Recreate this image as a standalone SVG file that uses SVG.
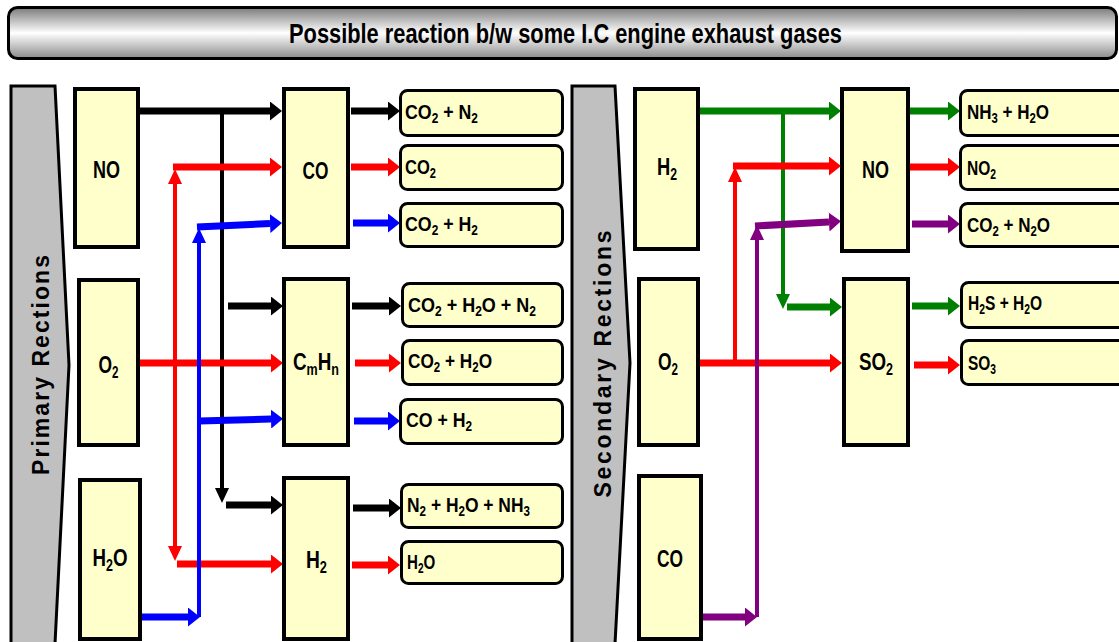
<svg xmlns="http://www.w3.org/2000/svg" width="1119" height="642" viewBox="0 0 1119 642">
<style>
text{font-family:"Liberation Sans",Arial,sans-serif;font-weight:bold;fill:#000}
.box{fill:#FFFFCC;stroke:#000;stroke-width:4}
.out{fill:#FFFFCC;stroke:#000;stroke-width:3}
.chev{fill:#C0C0C0;stroke:#000;stroke-width:3}
.nl{font-size:24px;text-anchor:middle}
.ol{font-size:21px}
.sn{font-size:16px}
.so{font-size:14px}
.side{font-size:23px;text-anchor:middle}
.c{fill:none;stroke-linecap:butt}
.h{stroke-width:7}
.v{stroke-width:4}
.k{stroke:#000}.r{stroke:#FF0000}.b{stroke:#0000FF}.g{stroke:#008000}.p{stroke:#800080}
</style>
<defs>
<linearGradient id="tg" x1="0" y1="0" x2="0" y2="1">
<stop offset="0" stop-color="#7a7a7a"/>
<stop offset="0.5" stop-color="#ffffff"/>
<stop offset="1" stop-color="#8a8a8a"/>
</linearGradient>
<marker id="hk" markerUnits="userSpaceOnUse" viewBox="0 0 12 19" markerWidth="12" markerHeight="19" refX="0" refY="9.5" orient="auto"><path d="M0,0 L12,9.5 L0,19 z" fill="#000"/></marker>
<marker id="hr" markerUnits="userSpaceOnUse" viewBox="0 0 12 19" markerWidth="12" markerHeight="19" refX="0" refY="9.5" orient="auto"><path d="M0,0 L12,9.5 L0,19 z" fill="#FF0000"/></marker>
<marker id="hb" markerUnits="userSpaceOnUse" viewBox="0 0 12 19" markerWidth="12" markerHeight="19" refX="0" refY="9.5" orient="auto"><path d="M0,0 L12,9.5 L0,19 z" fill="#0000FF"/></marker>
<marker id="hg" markerUnits="userSpaceOnUse" viewBox="0 0 12 19" markerWidth="12" markerHeight="19" refX="0" refY="9.5" orient="auto"><path d="M0,0 L12,9.5 L0,19 z" fill="#008000"/></marker>
<marker id="hp" markerUnits="userSpaceOnUse" viewBox="0 0 12 19" markerWidth="12" markerHeight="19" refX="0" refY="9.5" orient="auto"><path d="M0,0 L12,9.5 L0,19 z" fill="#800080"/></marker>
<marker id="vk" markerUnits="userSpaceOnUse" viewBox="0 0 15 14" markerWidth="15" markerHeight="14" refX="0" refY="7" orient="auto"><path d="M0,0 L15,7 L0,14 z" fill="#000"/></marker>
<marker id="vr" markerUnits="userSpaceOnUse" viewBox="0 0 15 14" markerWidth="15" markerHeight="14" refX="0" refY="7" orient="auto"><path d="M0,0 L15,7 L0,14 z" fill="#FF0000"/></marker>
<marker id="vb" markerUnits="userSpaceOnUse" viewBox="0 0 15 14" markerWidth="15" markerHeight="14" refX="0" refY="7" orient="auto"><path d="M0,0 L15,7 L0,14 z" fill="#0000FF"/></marker>
<marker id="vg" markerUnits="userSpaceOnUse" viewBox="0 0 15 14" markerWidth="15" markerHeight="14" refX="0" refY="7" orient="auto"><path d="M0,0 L15,7 L0,14 z" fill="#008000"/></marker>
<marker id="vp" markerUnits="userSpaceOnUse" viewBox="0 0 15 14" markerWidth="15" markerHeight="14" refX="0" refY="7" orient="auto"><path d="M0,0 L15,7 L0,14 z" fill="#800080"/></marker>
</defs>
<rect width="1119" height="642" fill="#fff"/>

<g id="title">
<rect x="8.5" y="7.5" width="1108" height="51" rx="9" fill="url(#tg)" stroke="#000" stroke-width="3"/>
<text x="565.5" y="43" font-size="28" text-anchor="middle" textLength="553" lengthAdjust="spacingAndGlyphs">Possible reaction b/w some I.C engine exhaust gases</text>
</g>

<g id="primary-band">
<polygon class="chev" points="11,86 55,86 69,365 55,644 11,644"/>
<text class="side" transform="translate(49,365) rotate(-90)" textLength="220" lengthAdjust="spacing">Primary Rections</text>
</g>
<g id="secondary-band">
<polygon class="chev" points="572,86 615,86 630,363 615,644 572,644"/>
<text class="side" transform="translate(611,364) rotate(-90)" textLength="267" lengthAdjust="spacing">Secondary Rections</text>
</g>

<g id="connectors">
<!-- black -->
<path class="c h k" d="M140,111 H270" marker-end="url(#hk)"/>
<path class="c v k" d="M222,111 V488" marker-end="url(#vk)"/>
<path class="c h k" d="M228,306 H271" marker-end="url(#hk)"/>
<path class="c h k" d="M226,505 H271" marker-end="url(#hk)"/>
<path class="c h k" d="M351,111 H388" marker-end="url(#hk)"/>
<path class="c h k" d="M352,306 H389" marker-end="url(#hk)"/>
<path class="c h k" d="M353,508 H389" marker-end="url(#hk)"/>
<!-- red left -->
<path class="c h r" d="M140,363 H271" marker-end="url(#hr)"/>
<path class="c v r" d="M175,363 V184" marker-end="url(#vr)"/>
<path class="c v r" d="M175,363 V546" marker-end="url(#vr)"/>
<path class="c h r" d="M173,167 H270" marker-end="url(#hr)"/>
<path class="c h r" d="M177,564 H271" marker-end="url(#hr)"/>
<path class="c h r" d="M351,167 H388" marker-end="url(#hr)"/>
<path class="c h r" d="M355,363 H389" marker-end="url(#hr)"/>
<path class="c h r" d="M352,565 H388" marker-end="url(#hr)"/>
<!-- blue -->
<path class="c h b" d="M142,617 H188" marker-end="url(#hb)"/>
<path class="c v b" d="M199,617 V243" marker-end="url(#vb)"/>
<path class="c h b" d="M197,227 L270,223.5" marker-end="url(#hb)"/>
<path class="c h b" d="M199,421 L271,419" marker-end="url(#hb)"/>
<path class="c h b" d="M353,223 H388" marker-end="url(#hb)"/>
<path class="c h b" d="M354,421 H388" marker-end="url(#hb)"/>
<!-- green -->
<path class="c h g" d="M700,111 H829" marker-end="url(#hg)"/>
<path class="c v g" d="M783,111 V294" marker-end="url(#vg)"/>
<path class="c h g" d="M787,307 H830" marker-end="url(#hg)"/>
<path class="c h g" d="M910,111 H948" marker-end="url(#hg)"/>
<path class="c h g" d="M912,306 H948" marker-end="url(#hg)"/>
<!-- red right -->
<path class="c h r" d="M700,363 H830" marker-end="url(#hr)"/>
<path class="c v r" d="M735,363 V182" marker-end="url(#vr)"/>
<path class="c h r" d="M733,166 H829" marker-end="url(#hr)"/>
<path class="c h r" d="M910,167 H948" marker-end="url(#hr)"/>
<path class="c h r" d="M914,365 H948" marker-end="url(#hr)"/>
<!-- purple -->
<path class="c h p" d="M702,617 H745" marker-end="url(#hp)"/>
<path class="c v p" d="M757,617 V240" marker-end="url(#vp)"/>
<path class="c h p" d="M755,226 L829,222" marker-end="url(#hp)"/>
<path class="c h p" d="M912,224 H948" marker-end="url(#hp)"/>
</g>

<g id="n-NO">
<rect class="box" x="75" y="89" width="63" height="158"/>
<text class="nl" transform="translate(106.5,178) scale(0.75,1)">NO</text>
</g>
<g id="n-O2">
<rect class="box" x="79" y="280" width="59" height="165"/>
<text class="nl" transform="translate(108.5,373) scale(0.725,1)">O<tspan class="sn" dy="5">2</tspan></text>
</g>
<g id="n-H2O">
<rect class="box" x="80" y="480" width="60" height="159"/>
<text class="nl" transform="translate(110,566) scale(0.78,1)">H<tspan class="sn" dy="5">2</tspan><tspan dy="-5">O</tspan></text>
</g>
<g id="n-CO">
<rect class="box" x="284" y="89" width="64" height="158"/>
<text class="nl" transform="translate(315.5,179) scale(0.72,1)">CO</text>
</g>
<g id="n-CmHn">
<rect class="box" x="284" y="279" width="64" height="166"/>
<text class="nl" transform="translate(316,370) scale(0.785,1)">C<tspan class="sn" dy="5">m</tspan><tspan dy="-5">H</tspan><tspan class="sn" dy="5">n</tspan></text>
</g>
<g id="n-H2">
<rect class="box" x="284" y="478" width="64" height="161"/>
<text class="nl" transform="translate(316.5,568) scale(0.8,1)">H<tspan class="sn" dy="5">2</tspan></text>
</g>

<g id="o-1">
<rect class="out" x="400.5" y="90.5" width="162" height="45" rx="7"/>
<text class="ol" transform="translate(405,119) scale(0.847,1)">CO<tspan class="so" dy="4">2</tspan><tspan dy="-4"> + N</tspan><tspan class="so" dy="4">2</tspan></text>
</g>
<g id="o-2">
<rect class="out" x="400.5" y="145.5" width="162" height="44" rx="7"/>
<text class="ol" transform="translate(405,174) scale(0.789,1)">CO<tspan class="so" dy="4">2</tspan></text>
</g>
<g id="o-3">
<rect class="out" x="400.5" y="203.5" width="162" height="43" rx="7"/>
<text class="ol" transform="translate(405,231) scale(0.847,1)">CO<tspan class="so" dy="4">2</tspan><tspan dy="-4"> + H</tspan><tspan class="so" dy="4">2</tspan></text>
</g>
<g id="o-4">
<rect class="out" x="402.5" y="283.5" width="160" height="43" rx="7"/>
<text class="ol" transform="translate(408,312) scale(0.857,1)">CO<tspan class="so" dy="4">2</tspan><tspan dy="-4"> + H</tspan><tspan class="so" dy="4">2</tspan><tspan dy="-4">O + N</tspan><tspan class="so" dy="4">2</tspan></text>
</g>
<g id="o-5">
<rect class="out" x="402.5" y="340.5" width="160" height="44" rx="7"/>
<text class="ol" transform="translate(408,368) scale(0.82,1)">CO<tspan class="so" dy="4">2</tspan><tspan dy="-4"> + H</tspan><tspan class="so" dy="4">2</tspan><tspan dy="-4">O</tspan></text>
</g>
<g id="o-6">
<rect class="out" x="400.5" y="399.5" width="162" height="44" rx="7"/>
<text class="ol" transform="translate(406,427) scale(0.842,1)">CO + H<tspan class="so" dy="4">2</tspan></text>
</g>
<g id="o-7">
<rect class="out" x="401.5" y="484.5" width="161" height="43" rx="7"/>
<text class="ol" transform="translate(407,512) scale(0.83,1)">N<tspan class="so" dy="4">2</tspan><tspan dy="-4"> + H</tspan><tspan class="so" dy="4">2</tspan><tspan dy="-4">O + NH</tspan><tspan class="so" dy="4">3</tspan></text>
</g>
<g id="o-8">
<rect class="out" x="401.5" y="541.5" width="161" height="42" rx="7"/>
<text class="ol" transform="translate(407,569) scale(0.72,1)">H<tspan class="so" dy="4">2</tspan><tspan dy="-4">O</tspan></text>
</g>

<g id="n-H2-s">
<rect class="box" x="635" y="89" width="63" height="160"/>
<text class="nl" transform="translate(667,175) scale(0.763,1)">H<tspan class="sn" dy="5">2</tspan></text>
</g>
<g id="n-O2-s">
<rect class="box" x="639" y="279" width="59" height="166"/>
<text class="nl" transform="translate(668,370) scale(0.725,1)">O<tspan class="sn" dy="5">2</tspan></text>
</g>
<g id="n-CO-s">
<rect class="box" x="639" y="476" width="62" height="163"/>
<text class="nl" transform="translate(670,567) scale(0.722,1)">CO</text>
</g>
<g id="n-NO-s">
<rect class="box" x="842" y="89" width="66" height="162"/>
<text class="nl" transform="translate(875.5,178) scale(0.75,1)">NO</text>
</g>
<g id="n-SO2">
<rect class="box" x="844" y="279" width="64" height="166"/>
<text class="nl" transform="translate(876,370) scale(0.78,1)">SO<tspan class="sn" dy="5">2</tspan></text>
</g>

<g id="o-9">
<rect class="out" x="960.5" y="90.5" width="175" height="45" rx="7"/>
<text class="ol" transform="translate(967,119) scale(0.81,1)">NH<tspan class="so" dy="4">3</tspan><tspan dy="-4"> + H</tspan><tspan class="so" dy="4">2</tspan><tspan dy="-4">O</tspan></text>
</g>
<g id="o-10">
<rect class="out" x="960.5" y="145.5" width="175" height="44" rx="7"/>
<text class="ol" transform="translate(967,175) scale(0.74,1)">NO<tspan class="so" dy="4">2</tspan></text>
</g>
<g id="o-11">
<rect class="out" x="960.5" y="203.5" width="175" height="43" rx="7"/>
<text class="ol" transform="translate(967,232) scale(0.81,1)">CO<tspan class="so" dy="4">2</tspan><tspan dy="-4"> + N</tspan><tspan class="so" dy="4">2</tspan><tspan dy="-4">O</tspan></text>
</g>
<g id="o-12">
<rect class="out" x="961.5" y="282.5" width="175" height="45" rx="7"/>
<text class="ol" transform="translate(968,310) scale(0.74,1)">H<tspan class="so" dy="4">2</tspan><tspan dy="-4">S + H</tspan><tspan class="so" dy="4">2</tspan><tspan dy="-4">O</tspan></text>
</g>
<g id="o-13">
<rect class="out" x="961.5" y="340.5" width="175" height="44" rx="7"/>
<text class="ol" transform="translate(968,370) scale(0.735,1)">SO<tspan class="so" dy="4">3</tspan></text>
</g>
</svg>
